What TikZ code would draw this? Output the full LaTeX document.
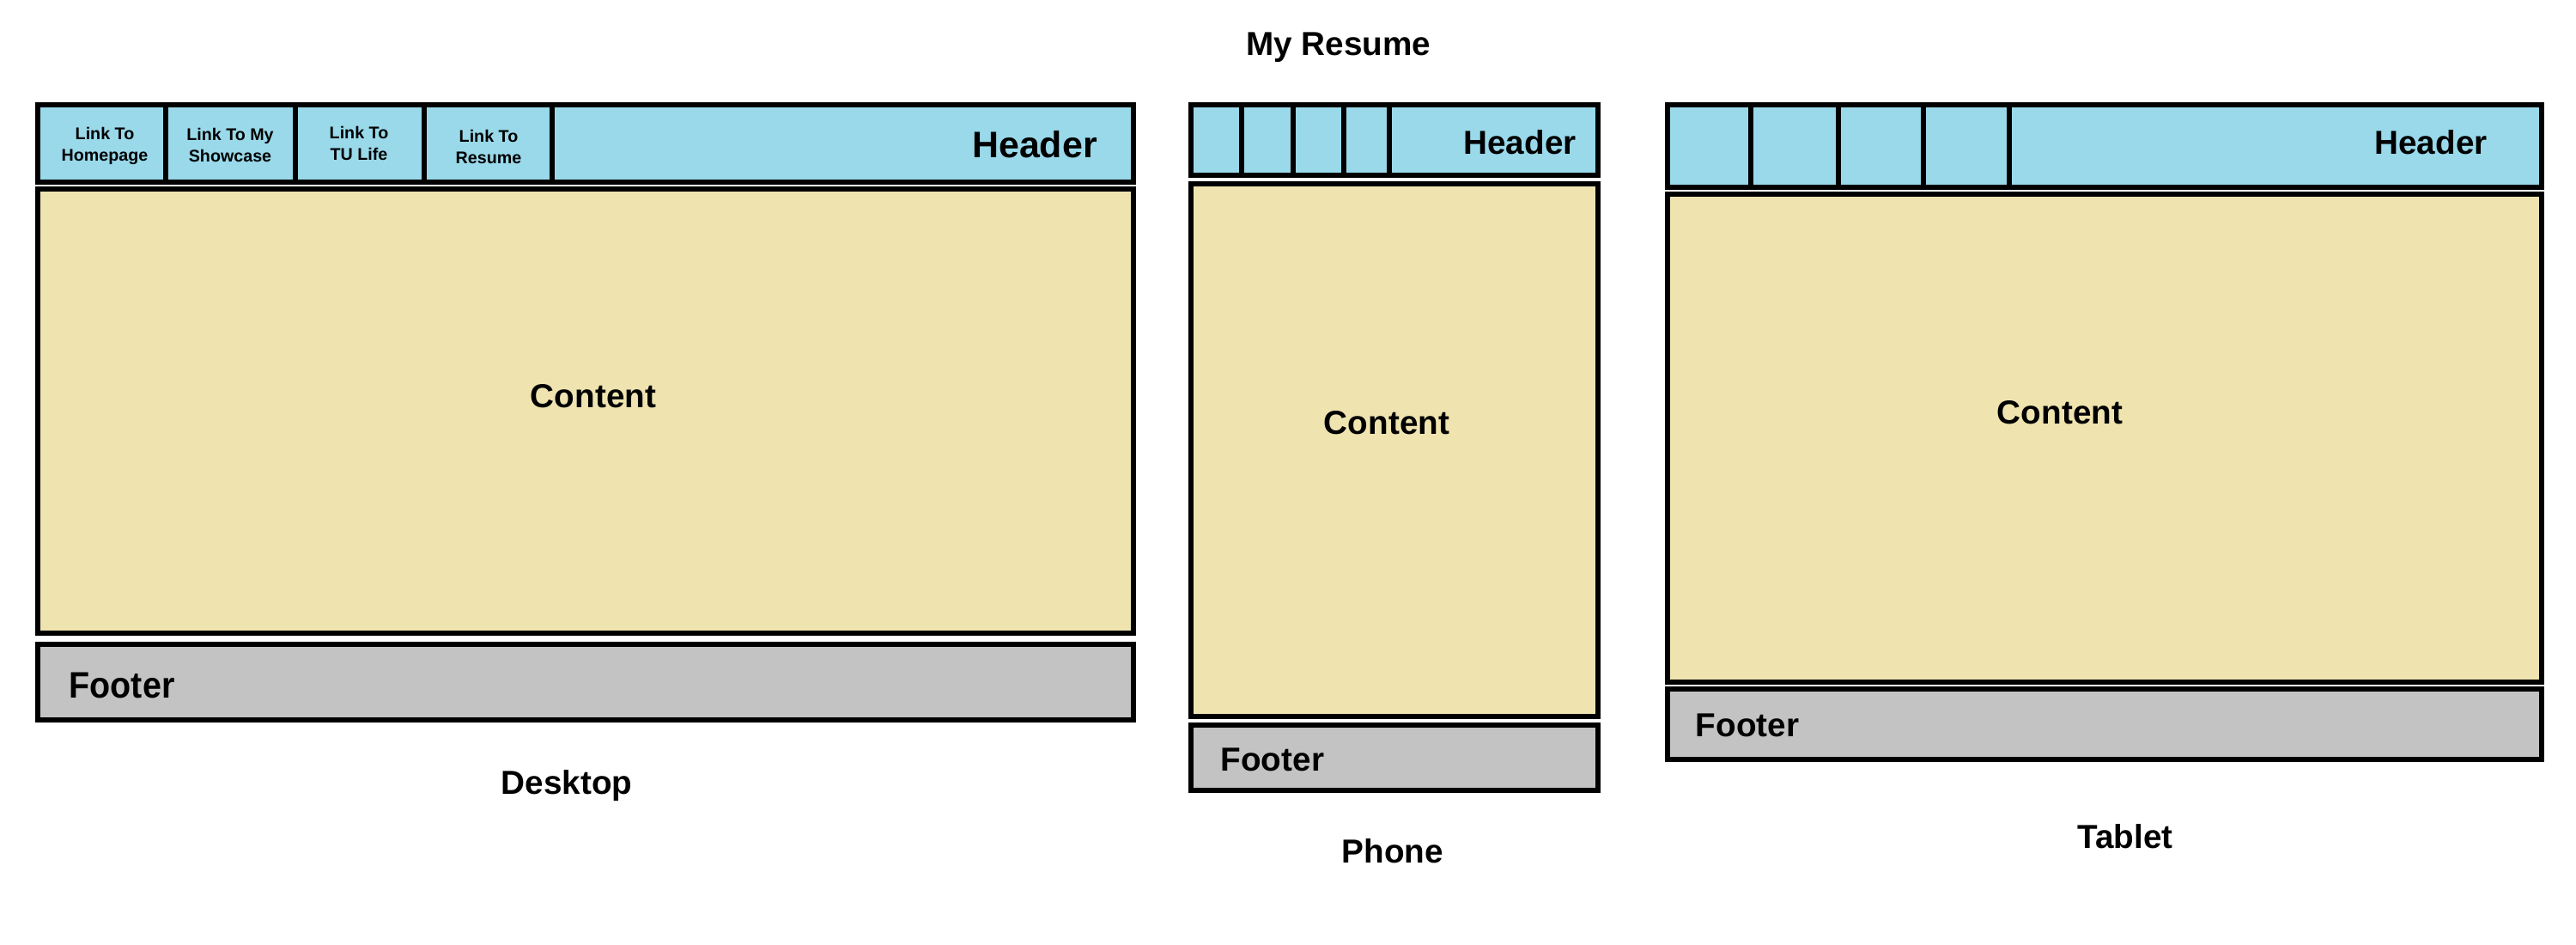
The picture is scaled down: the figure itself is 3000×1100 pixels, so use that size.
\documentclass[tikz,border=0pt]{standalone}
\usepackage{fontspec}
\setmainfont{Liberation Sans}
\definecolor{hdrblue}{HTML}{99D9EA}
\definecolor{bodytan}{HTML}{EFE4B0}
\definecolor{footgray}{HTML}{C3C3C3}
\begin{document}
\begin{tikzpicture}[x=0.01cm,y=-0.01cm,
  frame/.style={draw=black, line width=1.5pt, line join=miter},
  hdr/.style={frame, fill=hdrblue},
  body/.style={frame, fill=bodytan},
  foot/.style={frame, fill=footgray},
  bigtxt/.style={font=\fontsize{12.2}{14}\selectfont\bfseries, inner sep=0pt},
  midtxt/.style={font=\fontsize{11}{13}\selectfont\bfseries, inner sep=0pt},
  linktxt/.style={font=\fontsize{5.6}{7}\selectfont\bfseries, align=center, inner sep=0pt}
]
\useasboundingbox (0,0) rectangle (3000,1100);

% title
\node[midtxt] (title) at (1559,55) {My Resume};

% ---------- desktop layout ----------
\path[hdr] (44,122) rectangle (1320,212);
\foreach \x in {193,344,494,643} \draw[frame] (\x,122) -- (\x,212);
\path[body] (44,220) rectangle (1320,737);
\path[foot] (44,750) rectangle (1320,838);
\node[linktxt] (dl1) at (122,170) {Link To\\Homepage};
\node[linktxt] (dl2) at (268,169) {Link To My\\Showcase};
\node[linktxt] (dl3) at (418,167) {Link To\\TU Life};
\node[linktxt] (dl4) at (569,171) {Link To\\Resume};
\node[bigtxt] (dhead) at (1205,168) {Header};
\node[midtxt] (dcont) at (691,461) {Content};
\node[bigtxt, anchor=west, xscale=0.92] (dfoot) at (80,798) {Footer};
\node[midtxt] (dname) at (660,914) {Desktop};

% ---------- phone layout ----------
\path[hdr] (1387,122) rectangle (1861,204);
\foreach \x in {1446,1506,1565,1618} \draw[frame] (\x,122) -- (\x,204);
\path[body] (1387,214) rectangle (1861,834);
\path[foot] (1387,844) rectangle (1861,920);
\node[midtxt] (phead) at (1770,166) {Header};
\node[midtxt] (pcont) at (1615,492) {Content};
\node[midtxt, anchor=west] (pfoot) at (1421,884) {Footer};
\node[midtxt] (pname) at (1622,991) {Phone};

% ---------- tablet layout ----------
\path[hdr] (1942,122) rectangle (2960,218);
\foreach \x in {2039,2141,2240,2340} \draw[frame] (\x,122) -- (\x,218);
\path[body] (1942,226) rectangle (2960,794);
\path[foot] (1942,802) rectangle (2960,884);
\node[midtxt] (thead) at (2831,166) {Header};
\node[midtxt] (tcont) at (2399,480) {Content};
\node[midtxt, anchor=west] (tfoot) at (1974,844) {Footer};
\node[midtxt] (tname) at (2475,974) {Tablet};
\end{tikzpicture}
\end{document}
